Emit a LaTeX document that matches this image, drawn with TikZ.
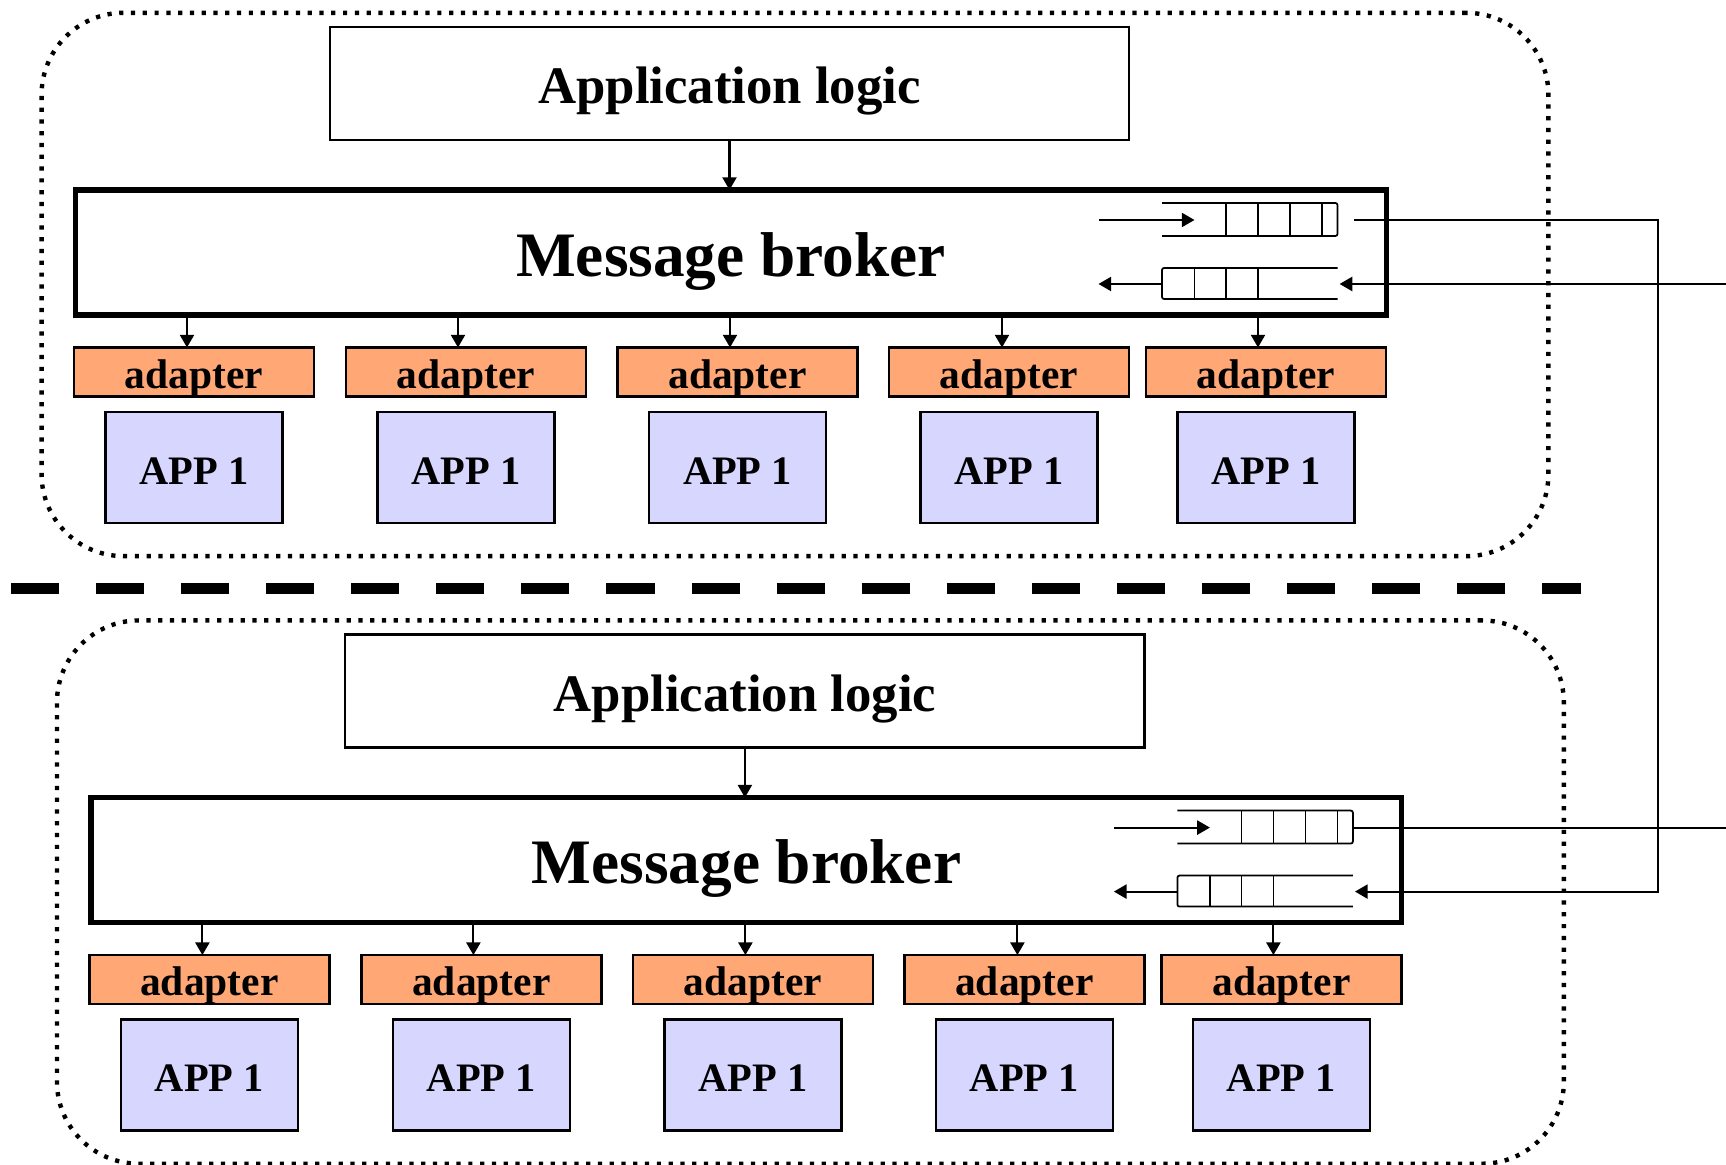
\documentclass[tikz,border=0pt]{standalone}
\usepackage{fontspec}
\setmainfont{Liberation Serif}
\usetikzlibrary{arrows.meta}
\definecolor{adapterfill}{RGB}{255,168,117}
\definecolor{appfill}{RGB}{214,214,255}
\tikzset{
  px/.style={x=0.01cm,y=-0.01cm},
  thinline/.style={line width=0.6pt},
  arr/.style={thinline,-{Triangle[length=3.6pt,width=4pt]}},
  box/.style={draw,line width=0.7pt,inner sep=0pt,outer sep=0pt,text depth=0pt},
  logicbox/.style={box,minimum width=7.99cm,minimum height=1.13cm,text height=11.5pt,
    font=\bfseries\fontsize{15pt}{18pt}\selectfont},
  brokerbox/.style={box,line width=1.5pt,minimum width=13.1cm,minimum height=1.25cm,text height=13.5pt,
    font=\bfseries\fontsize{18pt}{22pt}\selectfont},
  adapterbox/.style={box,fill=adapterfill,minimum width=2.4cm,minimum height=0.49cm,text height=9.3pt,
    font=\bfseries\fontsize{11.8pt}{14pt}\selectfont},
  appbox/.style={box,fill=appfill,minimum width=1.77cm,minimum height=1.11cm,text height=9.4pt,
    font=\bfseries\fontsize{11.5pt}{14pt}\selectfont},
  groupbox/.style={draw,line width=1.25pt,dash pattern=on 1.2pt off 2.15pt,rounded corners=0.82cm,
    minimum width=15.06cm,minimum height=5.43cm,inner sep=0pt,outer sep=0pt},
  queueline/.style={line width=0.5pt},
  separator/.style={line width=3.13pt,dash pattern=on 13.66pt off 10.53pt},
}

% One messaging unit: application logic, broker with its two queues,
% five adapters and their applications. #1 = name prefix, #2 = shift.
\newcommand{\brokerunit}[2]{%
  \begin{scope}[shift={#2}]
    \node[groupbox] (#1-group) at (795,284.5) {};
    \node[logicbox] (#1-logic) at (729.5,83.5) {Application logic};
    \node[brokerbox] (#1-broker) at (731,252.5) {Message broker};
    \foreach \i/\ax/\cx in {1/187/194,2/458/466,3/730/737.5,4/1002/1009,5/1258/1266}{
      \node[adapterbox] (#1-ad\i) at (\cx,372) {adapter};
      \node[appbox] (#1-app\i) at (\cx,467.5) {APP 1};
      \coordinate (#1-ax\i) at (\ax,0);
      \draw[arr] (#1-broker.south -| #1-ax\i) -- (#1-ad\i.north -| #1-ax\i);
    }
    \draw[arr] (#1-logic.south) -- (#1-logic.south |- #1-broker.north);
    % incoming queue
    \coordinate (#1-inA) at (1098.5,220);
    \coordinate (#1-inB) at (1194.5,220);
    \draw[arr] (#1-inA) -- (#1-inB);
    \draw[queueline,rounded corners=0.6pt] (1162,203) -- (1337.5,203) -- (1337.5,236) -- (1162,236);
    \foreach \q in {1226,1258,1290,1322} \draw[queueline] (\q,203) -- (\q,236);
    % outgoing queue
    \draw[queueline,rounded corners=0.6pt] (1337.5,268) -- (1162,268) -- (1162,299) -- (1337.5,299);
    \foreach \q in {1194.5,1226,1258} \draw[queueline] (\q,268) -- (\q,299);
    \coordinate (#1-outA) at (1162,284);
    \coordinate (#1-outB) at (1098.5,284);
    \draw[arr] (#1-outA) -- (#1-outB);
    % queue ports
    \coordinate (#1-qend) at (1337.5,220);
    \coordinate (#1-qgap) at (1354,220);
    \coordinate (#1-qin) at (1339.6,284);
  \end{scope}%
}

\begin{document}
\begin{tikzpicture}[px]
  \useasboundingbox (0,0) rectangle (1726,1165);
  \brokerunit{t}{(0,0)}
  \brokerunit{b}{(15.4,607.6)}
  % separator between the two units
  \coordinate (sepL) at (11,588.5);
  \coordinate (sepR) at (1581,588.5);
  \draw[separator] (sepL) -- (sepR);
  % links between the units
  \coordinate (bus) at (1658,0);
  \coordinate (edge) at (1726,0);
  \draw[arr] (t-qgap) -| (bus |- b-qin) -- (b-qin);
  \draw[arr] (t-qin -| edge) -- (t-qin);
  \draw[thinline] (b-qend) -- (b-qend -| edge);
\end{tikzpicture}
\end{document}
